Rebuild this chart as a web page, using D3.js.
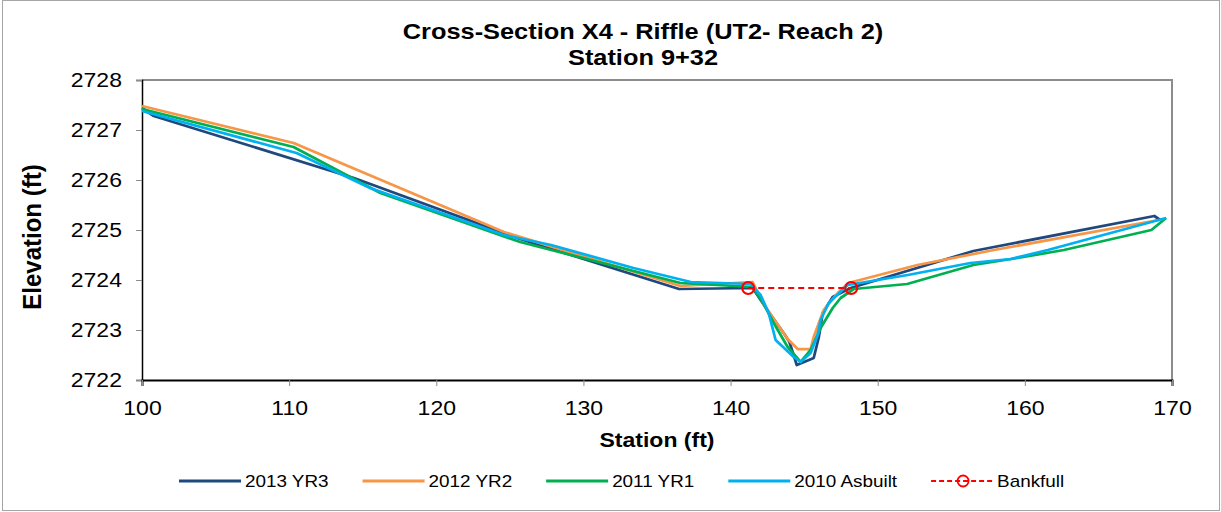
<!DOCTYPE html>
<html>
<head>
<meta charset="utf-8">
<script src="https://cdn.jsdelivr.net/npm/d3@7"></script>
<style>
  html, body { margin: 0; padding: 0; background: #fff; }
  svg { display: block; font-family: Arial, "Liberation Sans", sans-serif; }
</style>
</head>
<body>
<div id="chart"></div>
<script>
// survey data: [station (ft), elevation (ft)]
const yr3 = [
  [100, 2727.44], [100.8, 2727.28], [114.4, 2726.04], [125.7, 2724.82], [136.5, 2723.82],
  [141.5, 2723.84], [142.5, 2723.4], [143.7, 2722.9], [144.0, 2722.76], [144.5, 2722.3],
  [145.65, 2722.44], [146.0, 2722.86], [146.26, 2723.34], [146.94, 2723.66], [148.16, 2723.84],
  [156.5, 2724.58], [168.8, 2725.28], [169.2, 2725.2]
];
const yr2 = [
  [100, 2727.48], [110.3, 2726.74], [124.6, 2724.96], [136.6, 2723.88], [141.5, 2723.96],
  [142.24, 2723.52], [143.88, 2722.82], [144.56, 2722.62], [145.44, 2722.62], [145.65, 2722.86],
  [146.33, 2723.4], [147.28, 2723.74], [148.0, 2723.94], [152.7, 2724.3], [157.9, 2724.6],
  [169.1, 2725.2]
];
const yr1 = [
  [100, 2727.42], [110.3, 2726.66], [116.2, 2725.74], [125.7, 2724.76], [136.6, 2723.94],
  [141.5, 2723.86], [142.18, 2723.56], [142.93, 2723.14], [143.88, 2722.66], [144.76, 2722.36],
  [145.44, 2722.6], [146.12, 2723.04], [146.94, 2723.44], [147.48, 2723.64], [148.37, 2723.82],
  [152.0, 2723.92], [156.5, 2724.3], [159.5, 2724.44], [162.65, 2724.6], [168.6, 2725.0],
  [169.6, 2725.24]
];
const asbuilt = [
  [100, 2727.38], [110.5, 2726.54], [115.5, 2725.84], [124.6, 2724.9], [127.8, 2724.7],
  [133.4, 2724.24], [137.3, 2723.96], [141.36, 2723.92], [142.04, 2723.7], [142.59, 2723.34],
  [143.06, 2722.8], [144.29, 2722.46], [144.76, 2722.36], [145.44, 2722.54], [145.92, 2722.9],
  [146.12, 2723.2], [146.67, 2723.54], [147.96, 2723.9], [152.04, 2724.1], [156.3, 2724.34],
  [159.05, 2724.42], [161.56, 2724.6], [169.6, 2725.24]
];
const bankfull = [[141.2, 2723.84], [148.2, 2723.84]];

const seriesNames = ['2013 YR3', '2012 YR2', '2011 YR1', '2010 Asbuilt', 'Bankfull'];
const seriesColors = ['#1F497D', '#F79646', '#00B050', '#00B0F0', '#FF0000'];
const xTicks = [100, 110, 120, 130, 140, 150, 160, 170];
const yTicks = [2722, 2723, 2724, 2725, 2726, 2727, 2728];

const W = 1221, H = 512;
const margin = { top: 80, right: 49, bottom: 132, left: 142 };
const width = W - margin.left - margin.right;
const height = H - margin.top - margin.bottom;
const SX = 1.18; // text in the original is a bit wide

const svg = d3.select('#chart').append('svg')
  .attr('width', W)
  .attr('height', H);

svg.append('rect')
  .attr('x', 2.5).attr('y', 0.5)
  .attr('width', W - 4).attr('height', H - 2)
  .attr('fill', '#fff')
  .attr('stroke', '#a6a6a6');

function wideText(sel, x, y) {
  return sel.attr('transform', `translate(${x},${y}) scale(${SX},1)`);
}

// title
wideText(svg.append('text'), 643, 39)
  .attr('text-anchor', 'middle')
  .attr('font-size', 21.5).attr('font-weight', 'bold')
  .text('Cross-Section X4 - Riffle (UT2- Reach 2)');
wideText(svg.append('text'), 643, 65)
  .attr('text-anchor', 'middle')
  .attr('font-size', 21.5).attr('font-weight', 'bold')
  .text('Station 9+32');

const g = svg.append('g').attr('transform', `translate(${margin.left},${margin.top})`);

const x = d3.scaleLinear().domain([100, 170]).range([0, width]);
const y = d3.scaleLinear().domain([2722, 2728]).range([height, 0]);

// plot frame (top & right in grey)
g.append('path')
  .attr('d', `M0,0H${width}V${height}`)
  .attr('fill', 'none')
  .attr('stroke', '#8c8c8c')
  .attr('stroke-width', 2);

const yAxis = g.append('g')
  .call(d3.axisLeft(y).tickValues(yTicks).tickSize(6).tickFormat(d3.format('d')));
yAxis.select('.domain').attr('stroke', '#000').attr('stroke-width', 1.5);
yAxis.selectAll('.tick line').attr('stroke', '#8c8c8c');
yAxis.selectAll('.tick text')
  .attr('font-size', 19.5).attr('fill', '#000')
  .attr('x', -17).attr('dy', '0.35em')
  .attr('transform', `scale(${SX},1)`);

const xAxis = g.append('g')
  .attr('transform', `translate(0,${height})`)
  .call(d3.axisBottom(x).tickValues(xTicks).tickSize(6).tickFormat(d3.format('d')));
xAxis.select('.domain').attr('stroke', '#000').attr('stroke-width', 2);
xAxis.selectAll('.tick line').attr('stroke', '#8c8c8c');
xAxis.selectAll('.tick text')
  .attr('font-size', 19.5).attr('fill', '#000')
  .attr('y', 35).attr('dy', 0)
  .attr('transform', `scale(${SX},1)`);

// axis titles
wideText(svg.append('text'), 657, 447)
  .attr('text-anchor', 'middle')
  .attr('font-size', 19.5).attr('font-weight', 'bold')
  .text('Station (ft)');
svg.append('text')
  .attr('transform', 'translate(41,237) rotate(-90) scale(1,1.05)')
  .attr('text-anchor', 'middle')
  .attr('font-size', 24).attr('font-weight', 'bold')
  .text('Elevation (ft)');

const line = d3.line().x(d => x(d[0])).y(d => y(d[1]));

[yr3, yr2, yr1, asbuilt].forEach((data, i) => {
  g.append('path')
    .datum(data)
    .attr('d', line)
    .attr('fill', 'none')
    .attr('stroke', seriesColors[i])
    .attr('stroke-width', 2.75)
    .attr('stroke-linejoin', 'round');
});

g.append('path')
  .datum(bankfull)
  .attr('d', line)
  .attr('fill', 'none')
  .attr('stroke', seriesColors[4])
  .attr('stroke-width', 2)
  .attr('stroke-dasharray', '6,4');

g.selectAll('.bkf')
  .data(bankfull)
  .enter()
  .append('circle')
  .attr('class', 'bkf')
  .attr('cx', d => x(d[0]))
  .attr('cy', d => y(d[1]))
  .attr('r', 6)
  .attr('fill', 'none')
  .attr('stroke', seriesColors[4])
  .attr('stroke-width', 2);

// legend
const legend = svg.append('g').attr('transform', 'translate(0,481)');
let lx = 179;
seriesNames.forEach((name, i) => {
  const item = legend.append('g').attr('transform', `translate(${lx},0)`);
  item.append('line')
    .attr('x1', 0).attr('x2', 62)
    .attr('stroke', seriesColors[i])
    .attr('stroke-width', i === 4 ? 2 : 3)
    .attr('stroke-dasharray', i === 4 ? '5,3' : null);
  if (i === 4) {
    item.append('circle')
      .attr('cx', 32).attr('r', 5.5)
      .attr('fill', 'none').attr('stroke', seriesColors[i]).attr('stroke-width', 1.8);
  }
  const t = item.append('text')
    .attr('transform', `translate(66,6) scale(${SX},1)`)
    .attr('font-size', 16)
    .text(name);
  lx += 66 + t.node().getComputedTextLength() * SX + 34;
});
</script>
</body>
</html>
